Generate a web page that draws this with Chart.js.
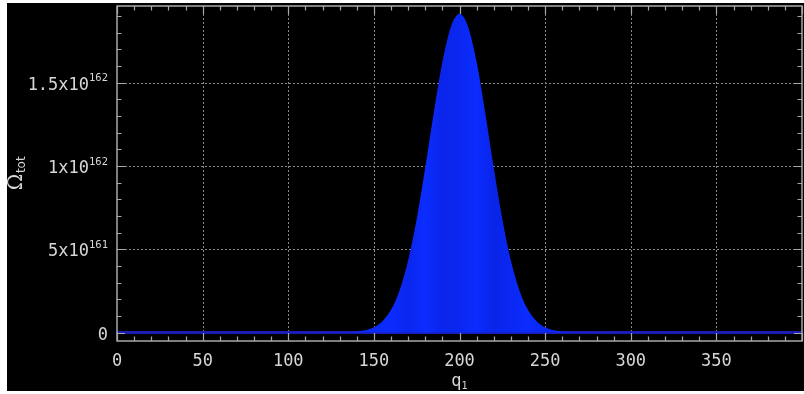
<!DOCTYPE html>
<html>
<head>
<meta charset="utf-8">
<script src="https://cdn.jsdelivr.net/npm/chart.js@4.4.1/dist/chart.umd.min.js"></script>
<style>
  html, body { margin: 0; padding: 0; background: #ffffff; width: 804px; height: 394px; overflow: hidden; }
  #wrap { position: absolute; left: 7px; top: 3px; width: 797px; height: 388px; background: #000000; }
  canvas { display: block; }
</style>
</head>
<body>
<div id="wrap"><canvas id="c" width="797" height="388"></canvas></div>
<script>
// Total multiplicity of the combined system against the energy quanta q1 held by solid 1
const qValues = [0, 135, 140, 145, 150, 155, 160, 165, 170, 175, 180, 185, 190, 195, 200,
                 205, 210, 215, 220, 225, 230, 235, 240, 245, 250, 255, 260, 265, 400];
const omegaValues = [0, 2e159, 5e159, 1.3e160, 3.1e160, 6.8e160, 1.36e161, 2.53e161, 4.33e161,
                     6.82e161, 9.89e161, 1.321e162, 1.624e162, 1.837e162, 1.915e162,
                     1.837e162, 1.624e162, 1.321e162, 9.89e161, 6.82e161, 4.33e161, 2.53e161,
                     1.36e161, 6.8e160, 3.1e160, 1.3e160, 5e159, 2e159, 0];

// Axis ticks
const xTickValues = [0, 50, 100, 150, 200, 250, 300, 350];
const xTickLabels = ['0', '50', '100', '150', '200', '250', '300', '350'];
const yTickValues = [0, 5e161, 1e162, 1.5e162];
const yTickBase = ['0', '5x10', '1x10', '1.5x10'];
const yTickExp = ['', '161', '162', '162'];
const xRange = [0, 400];
const yRange = [-5.1e160, 1.961e162];
const xMinorStep = 10;
const yMinorStep = 1e161;

const points = qValues.map((q, i) => ({ x: q, y: omegaValues[i] }));
const zeroLevel = points.filter(p => p.y === 0);

const FG = '#d6d6d6';
const AXIS = '#a9a9a9';
const GRID = '#8a8a8a';
const MONO = '"DejaVu Sans Mono", "Liberation Mono", monospace';

// faint vertical banding across the filled peak
function peakFill(context) {
  const chart = context.chart;
  const a = chart.chartArea;
  if (!a) return '#0b2cff';
  const x = chart.scales.x;
  const g = chart.ctx.createLinearGradient(x.getPixelForValue(140), 0, x.getPixelForValue(260), 0);
  const shades = ['#0b2cff', '#0a29f4', '#0b2cff', '#0a26ee', '#0b2dff', '#0a25ea', '#0a27f0',
                  '#0b2cff', '#0a24e8', '#0a28f2', '#0b2cff', '#0a27ef', '#0b2cff'];
  shades.forEach((c, i) => g.addColorStop(i / (shades.length - 1), c));
  return g;
}

const frame = {
  id: 'frame',
  beforeDatasetsDraw(chart) {
    const { ctx, chartArea: a, scales: { x, y } } = chart;
    ctx.save();
    ctx.strokeStyle = GRID;
    ctx.lineWidth = 1;
    ctx.setLineDash([2, 2]);
    xTickValues.forEach(v => {
      if (v === xRange[0]) return;
      const px = Math.round(x.getPixelForValue(v)) + 0.5;
      ctx.beginPath(); ctx.moveTo(px, a.top); ctx.lineTo(px, a.bottom); ctx.stroke();
    });
    yTickValues.forEach(v => {
      if (v === 0) return;
      const py = Math.round(y.getPixelForValue(v)) + 0.5;
      ctx.beginPath(); ctx.moveTo(a.left, py); ctx.lineTo(a.right, py); ctx.stroke();
    });
    ctx.restore();
  },
  afterDatasetsDraw(chart) {
    const { ctx, chartArea: a, scales: { x, y } } = chart;
    ctx.save();
    ctx.strokeStyle = AXIS;
    ctx.lineWidth = 1.5;
    ctx.strokeRect(a.left, a.top, a.right - a.left, a.bottom - a.top);

    // tick marks pointing into the plot, on all four sides
    ctx.lineWidth = 1.2;
    for (let v = xRange[0]; v <= xRange[1] + 1e-9; v += xMinorStep) {
      const major = Math.abs(v % 50) < 1e-9;
      const len = major ? 8 : 4.5;
      const px = Math.round(x.getPixelForValue(v)) + 0.5;
      ctx.beginPath();
      ctx.moveTo(px, a.bottom); ctx.lineTo(px, a.bottom - len);
      ctx.moveTo(px, a.top); ctx.lineTo(px, a.top + len);
      ctx.stroke();
    }
    for (let k = 0; k * yMinorStep <= yRange[1]; k++) {
      const v = k * yMinorStep;
      const len = (k % 5 === 0) ? 8 : 4.5;
      const py = Math.round(y.getPixelForValue(v)) + 0.5;
      ctx.beginPath();
      ctx.moveTo(a.left, py); ctx.lineTo(a.left + len, py);
      ctx.moveTo(a.right, py); ctx.lineTo(a.right - len, py);
      ctx.stroke();
    }

    // x tick labels
    ctx.fillStyle = FG;
    ctx.font = '17px ' + MONO;
    ctx.textAlign = 'center';
    ctx.textBaseline = 'alphabetic';
    xTickValues.forEach((v, i) => {
      ctx.fillText(xTickLabels[i], x.getPixelForValue(v), 363);
    });

    // y tick labels with powers of ten
    const right = 101;
    yTickValues.forEach((v, i) => {
      const py = y.getPixelForValue(v);
      let edge = right;
      if (yTickExp[i]) {
        ctx.font = '10.5px ' + MONO;
        ctx.textAlign = 'right';
        ctx.fillText(yTickExp[i], edge, py - 1.5);
        edge -= ctx.measureText(yTickExp[i]).width;
      }
      ctx.font = '17px ' + MONO;
      ctx.textAlign = 'right';
      ctx.fillText(yTickBase[i], edge, py + 7);
    });

    // x axis title q1
    ctx.font = '17px ' + MONO;
    const qW = ctx.measureText('q').width;
    ctx.font = '10px ' + MONO;
    const oneW = ctx.measureText('1').width;
    const cx = (a.left + a.right) / 2;
    const startX = cx - (qW + oneW) / 2;
    ctx.textAlign = 'left';
    ctx.font = '17px ' + MONO;
    ctx.fillText('q', startX, 383);
    ctx.font = '10px ' + MONO;
    ctx.fillText('1', startX + qW, 386);

    // y axis title Omega_tot, rotated
    ctx.translate(15, (a.top + a.bottom) / 2);
    ctx.rotate(-Math.PI / 2);
    ctx.font = '20px "DejaVu Serif", "Liberation Serif", serif';
    const omW = ctx.measureText('\u03A9').width;
    ctx.font = '12px "DejaVu Sans", sans-serif';
    const totW = ctx.measureText('tot').width;
    const x0 = -(omW + totW) / 2;
    ctx.font = '20px "DejaVu Serif", "Liberation Serif", serif';
    ctx.fillText('\u03A9', x0, 0);
    ctx.font = '12px "DejaVu Sans", sans-serif';
    ctx.fillText('tot', x0 + omW + 0.5, 3);
    ctx.restore();
  }
};

new Chart(document.getElementById('c'), {
  type: 'line',
  data: {
    datasets: [{
      data: points,
      parsing: false,
      backgroundColor: peakFill,
      fill: 'origin',
      borderWidth: 0,
      borderColor: 'rgba(0,0,0,0)',
      pointRadius: 0,
      cubicInterpolationMode: 'monotone',
      order: 0
    }, {
      data: zeroLevel,
      parsing: false,
      fill: false,
      borderWidth: 3,
      borderColor: '#1c1cb4',
      pointRadius: 0,
      order: 1
    }]
  },
  plugins: [frame],
  options: {
    responsive: false,
    animation: false,
    events: [],
    layout: { padding: { left: 110, right: 2, top: 3, bottom: 50 } },
    plugins: { legend: { display: false }, tooltip: { enabled: false } },
    scales: {
      x: { type: 'linear', min: xRange[0], max: xRange[1], display: false },
      y: { type: 'linear', min: yRange[0], max: yRange[1], display: false }
    }
  }
});
</script>
</body>
</html>
